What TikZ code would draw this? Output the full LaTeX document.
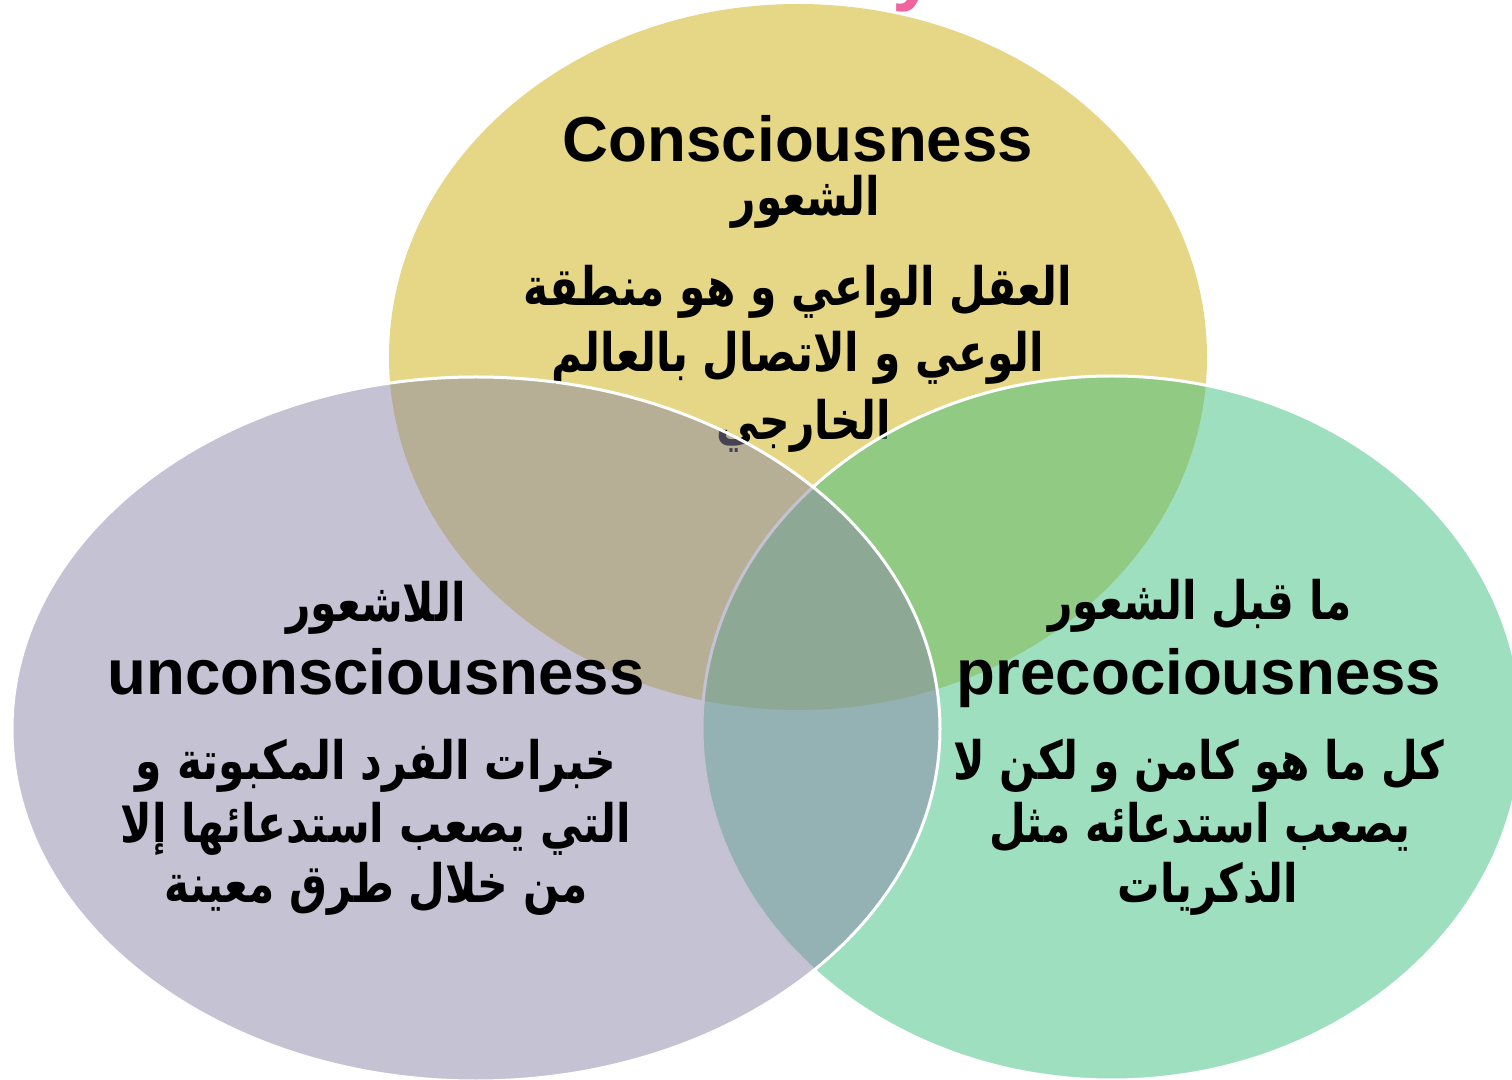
\documentclass[tikz,border=0pt]{standalone}
\usepackage{fontspec}
\setmainfont{Liberation Sans}
\newfontfamily\arabicfont[Script=Arabic, FakeStretch=0.8]{DejaVu Sans}
\TeXXeTstate=1
\definecolor{ycol}{RGB}{229,215,134}
\definecolor{gcol}{RGB}{61,191,129}
\definecolor{lcol}{RGB}{139,135,167}
\definecolor{pinkcol}{RGB}{240,100,160}
\newcommand{\artxt}[1]{\beginR #1\endR}
\begin{document}
\begin{tikzpicture}[x=0.5pt,y=-0.5pt,
  blob/.style={draw=white, line width=1.5pt},
  latin/.style={anchor=base, inner sep=0pt, font=\bfseries\fontsize{31.8pt}{36pt}\selectfont},
  arline/.style={anchor=base, inner sep=0pt, font=\arabicfont\bfseries\fontsize{26.5pt}{30pt}\selectfont}]
\useasboundingbox (0,0) rectangle (1512,1080);
% fragment of a title above the picture
\node[anchor=base, inner sep=0pt, text=pinkcol, font=\bfseries\fontsize{40pt}{40pt}\selectfont] (ttl) at (915,-4) {y};
% top ellipse: consciousness
\fill[ycol] (798,357) ellipse [x radius=204.5pt, y radius=176.5pt];
\node[latin] (con) at (798,162) {Consciousness};
\node[arline] (conar) at (806,216) {\artxt{الشعور}};
\node[arline] (con1) at (798,306) {\artxt{العقل الواعي و هو منطقة}};
\node[arline] (con2) at (798,372) {\artxt{الوعي و الاتصال بالعالم}};
\node[arline] (con3) at (804,440) {\artxt{الخارجي}};
% right ellipse: preconsciousness
\draw[blob, fill=gcol, fill opacity=0.5] (1112,728) ellipse [x radius=205pt, y radius=176pt];
\node[arline] (prear) at (1200,620) {\artxt{ما قبل الشعور}};
\node[latin] (pre) at (1199,695) {precociousness};
\node[arline] (pre1) at (1199,780) {\artxt{كل ما هو كامن و لكن لا}};
\node[arline] (pre2) at (1200,842) {\artxt{يصعب استدعائه مثل}};
\node[arline] (pre3) at (1208,902) {\artxt{الذكريات}};
% left ellipse: unconsciousness
\draw[blob, fill=lcol, fill opacity=0.5] (476,729) ellipse [x radius=232pt, y radius=176pt];
\node[arline] (unar) at (376,622) {\artxt{اللاشعور}};
\node[latin] (un) at (376,695) {unconsciousness};
\node[arline] (un1) at (376,780) {\artxt{خبرات الفرد المكبوتة و}};
\node[arline] (un2) at (376,842) {\artxt{التي يصعب استدعائها إلا}};
\node[arline] (un3) at (376,902) {\artxt{من خلال طرق معينة}};
\end{tikzpicture}
\end{document}
